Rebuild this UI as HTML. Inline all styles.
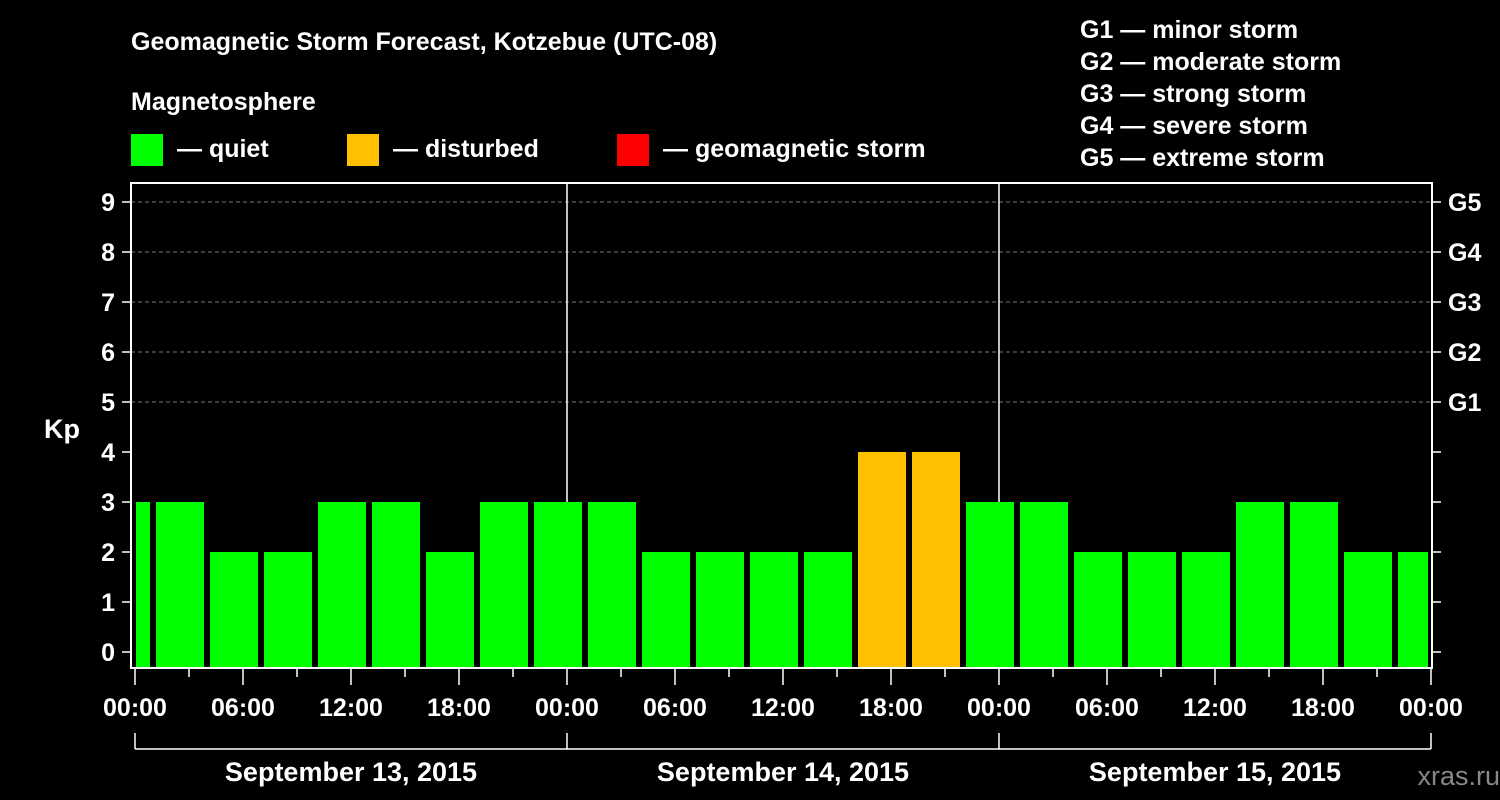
<!DOCTYPE html>
<html><head><meta charset="utf-8"><style>
html,body{margin:0;padding:0;background:#000;}
svg{display:block;font-family:"Liberation Sans",Arial,sans-serif;font-weight:bold;}
</style></head><body>
<svg id="chart" width="1500" height="800" viewBox="0 0 1500 800">
<text x="131" y="50" fill="#fff" font-size="25">Geomagnetic Storm Forecast, Kotzebue (UTC-08)</text>
<text x="131" y="110" fill="#fff" font-size="25">Magnetosphere</text>
<g><rect x="131" y="134" width="32" height="32" fill="#00ff00"/><text x="177" y="157" fill="#fff" font-size="25">— quiet</text></g>
<g><rect x="347" y="134" width="32" height="32" fill="#ffc000"/><text x="393" y="157" fill="#fff" font-size="25">— disturbed</text></g>
<g><rect x="617" y="134" width="32" height="32" fill="#ff0000"/><text x="663" y="157" fill="#fff" font-size="25">— geomagnetic storm</text></g>
<g fill="#fff" font-size="25">
<text x="1080" y="38">G1 — minor storm</text>
<text x="1080" y="70">G2 — moderate storm</text>
<text x="1080" y="102">G3 — strong storm</text>
<text x="1080" y="134">G4 — severe storm</text>
<text x="1080" y="166">G5 — extreme storm</text>
</g>
<text x="62" y="438" fill="#fff" font-size="27" text-anchor="middle">Kp</text>
<text x="1500" y="785" fill="#888" font-size="27" text-anchor="end" font-weight="normal">xras.ru</text>
<g id="grid"></g><g id="bars"></g><g id="axes"></g>
</svg>
<script>
const kpValues=[3,3,2,2,3,3,2,3,3,3,2,2,2,2,4,4,3,3,2,2,2,3,3,2,2];
const yTicks=[0,1,2,3,4,5,6,7,8,9];
const gLabels=["G1","G2","G3","G4","G5"];
const xTickLabels=["00:00","06:00","12:00","18:00","00:00","06:00","12:00","18:00","00:00","06:00","12:00","18:00","00:00"];
const dayLabels=["September 13, 2015","September 14, 2015","September 15, 2015"];
const NS="http://www.w3.org/2000/svg";
const X0=135,HPX=18,L=131,R=1432,T=183,B=668;
const xs=h=>X0+h*HPX;
const ys=v=>652-v*50;
function mk(tag,attrs,parent){const e=document.createElementNS(NS,tag);for(const k in attrs)e.setAttribute(k,attrs[k]);parent.appendChild(e);return e;}
const grid=document.getElementById('grid'),bars=document.getElementById('bars'),axes=document.getElementById('axes');
yTicks.forEach(v=>{if(v>=5){const l=mk('line',{x1:L,x2:R,y1:ys(v),y2:ys(v),stroke:'#777','stroke-dasharray':'4,3','stroke-width':1},grid);

}
const t=mk('text',{x:115,y:ys(v)+9,fill:'#fff','font-size':25,'text-anchor':'end'},axes);t.textContent=v;


mk('line',{x1:122,x2:L,y1:ys(v),y2:ys(v),stroke:'#fff','stroke-width':1.5},axes);
mk('line',{x1:R,x2:R+9,y1:ys(v),y2:ys(v),stroke:'#fff','stroke-width':1.5},axes);});
gLabels.forEach((g,i)=>{const t=mk('text',{x:1448,y:ys(5+i)+9,fill:'#fff','font-size':25},axes);t.textContent=g;

});
kpValues.forEach((v,i)=>{const c=-0.5+3*i;let x1=xs(c-1.5)+3,x2=xs(c+1.5)-3;x1=Math.max(x1,X0+1);x2=Math.min(x2,xs(72)-3);
const col=v>=5?'#ff0000':(v>=4?'#ffc000':'#00ff00');
const r=mk('rect',{x:x1,y:ys(v),width:x2-x1,height:B-ys(v),fill:col},bars);

});
[24,48].forEach(h=>mk('line',{x1:xs(h),x2:xs(h),y1:T,y2:B,stroke:'#fff','stroke-width':1.5},grid));
const fr=mk('rect',{x:L,y:T,width:R-L,height:B-T,fill:'none',stroke:'#fff','stroke-width':2},axes);


for(let h=0;h<=72;h+=3){mk('line',{x1:xs(h),x2:xs(h),y1:B,y2:h%6==0?685:677,stroke:'#fff','stroke-width':1.5},axes);}
xTickLabels.forEach((s,i)=>{const t=mk('text',{x:xs(i*6),y:716,fill:'#fff','font-size':25,'text-anchor':'middle'},axes);t.textContent=s;

});
mk('line',{x1:xs(0),x2:xs(72),y1:749,y2:749,stroke:'#fff','stroke-width':1.5},axes);
[0,24,48,72].forEach(h=>mk('line',{x1:xs(h),x2:xs(h),y1:733,y2:749,stroke:'#fff','stroke-width':1.5},axes));
dayLabels.forEach((s,i)=>{const t=mk('text',{x:xs(i*24+12),y:781,fill:'#fff','font-size':27,'text-anchor':'middle'},axes);t.textContent=s;

});
</script>
</body></html>
